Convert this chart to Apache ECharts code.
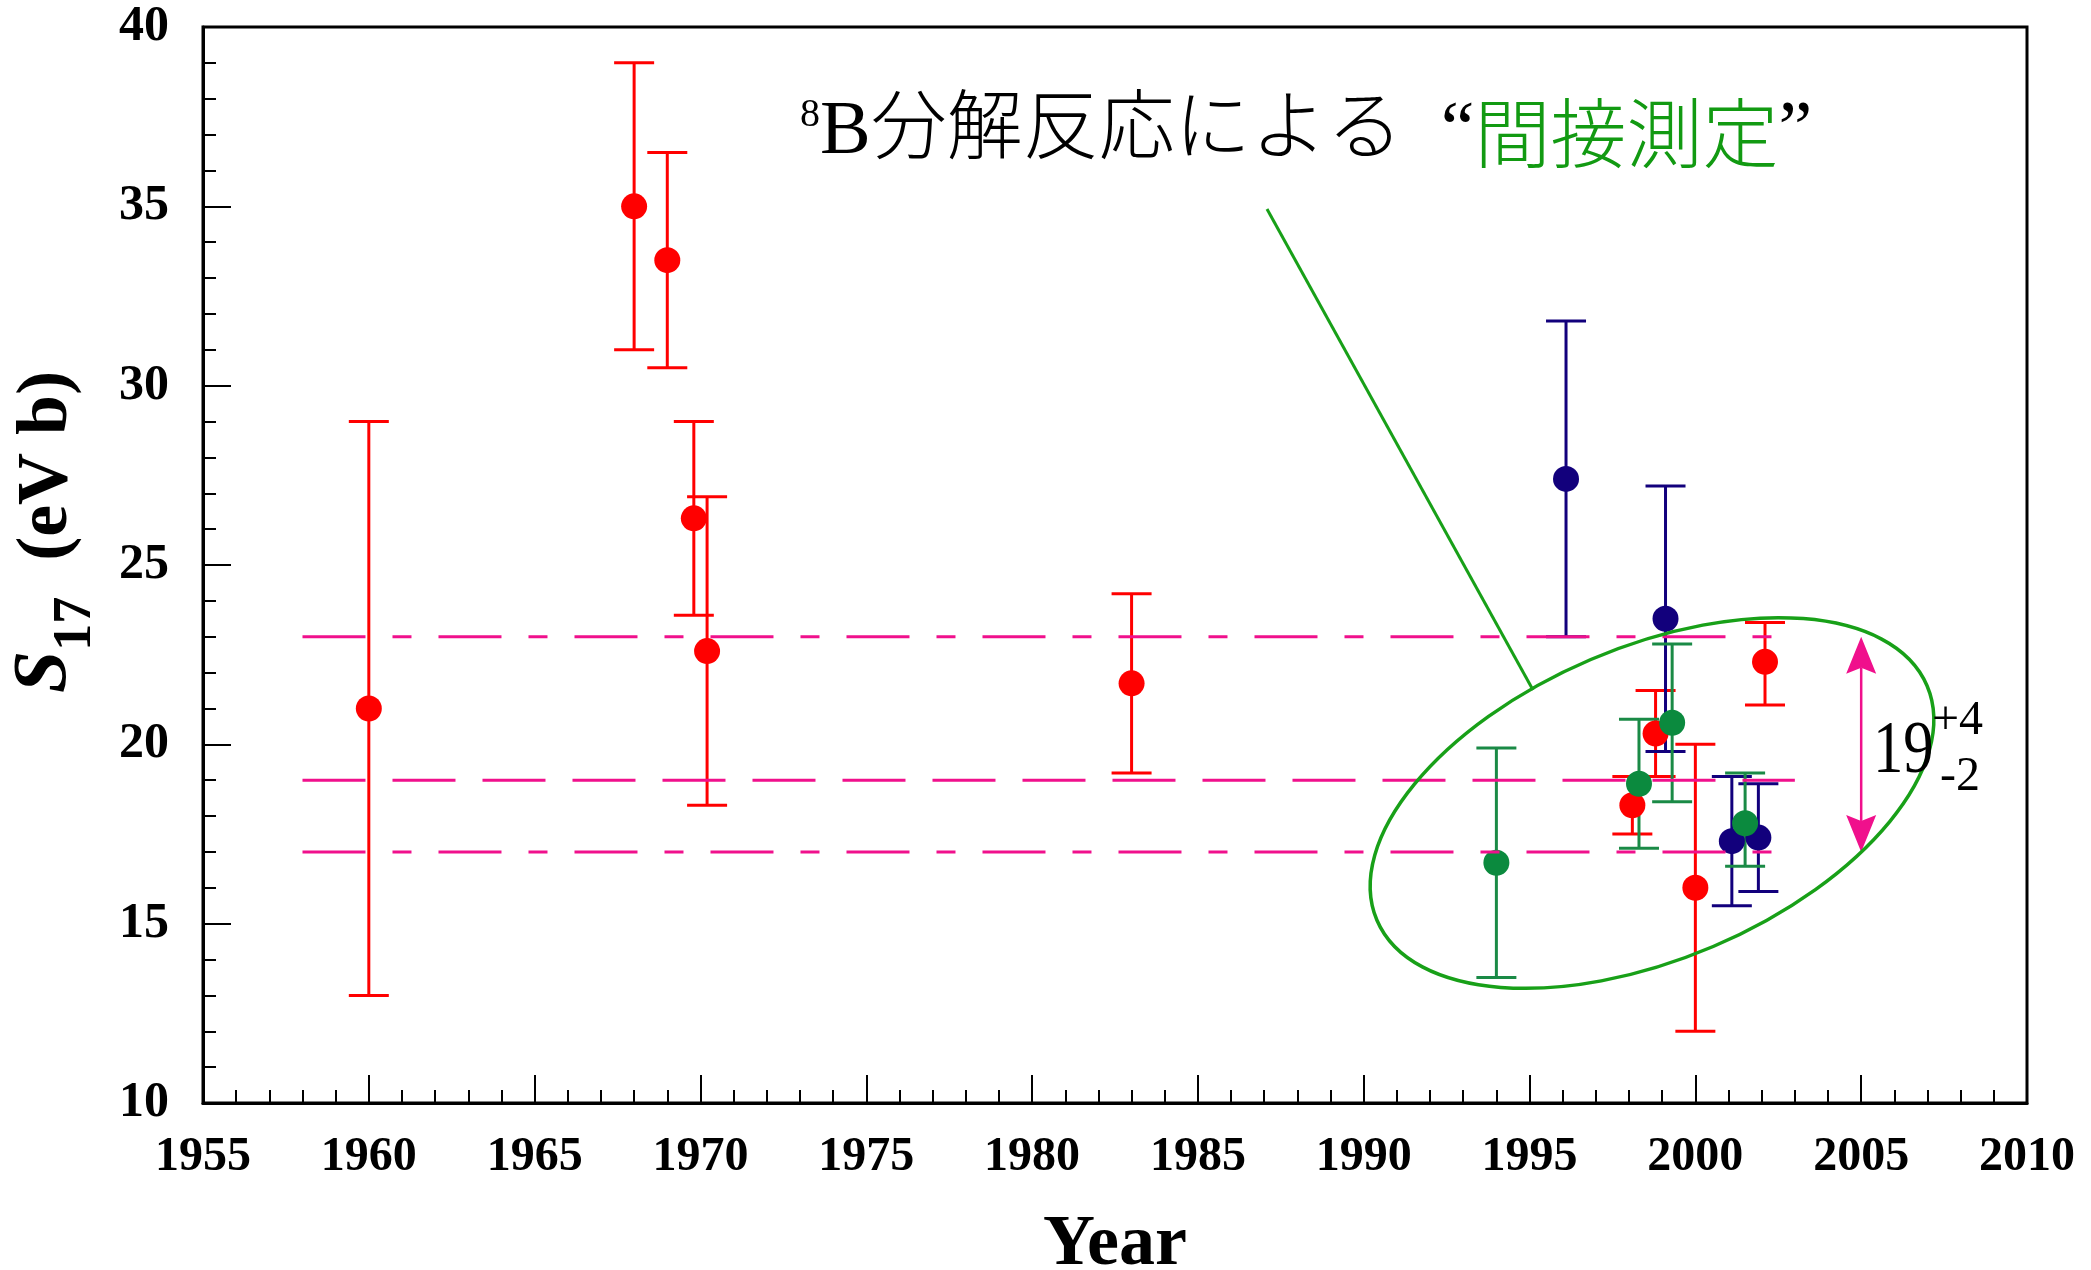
<!DOCTYPE html>
<html>
<head>
<meta charset="utf-8">
<title>S17 vs Year</title>
<script src="https://cdn.jsdelivr.net/npm/echarts@6/dist/echarts.min.js"></script>
<style>
  html, body { margin: 0; padding: 0; background: #fff; }
  #chart { width: 2091px; height: 1270px; }
</style>
</head>
<body>
<div id="chart"></div>
<script>
// ---- data: S17 (eV b) by year of publication, with error bars ----
// direct (p,γ) measurements
const redYear  = [1960.0, 1968.0, 1969.0, 1969.8, 1970.2, 1983.0, 1998.1, 1998.8, 2000.0, 2002.1];
const redS17   = [21.0, 35.0, 33.5, 26.3, 22.6, 21.7, 18.3, 20.3, 16.0, 22.3];
const redUpper = [29.0, 39.0, 36.5, 29.0, 26.9, 24.2, 19.1, 21.5, 20.0, 23.4];
const redLower = [13.0, 31.0, 30.5, 23.6, 18.3, 19.2, 17.5, 19.1, 12.0, 21.1];

// indirect determinations (navy)
const navyYear  = [1996.1, 1999.1, 2001.1, 2001.9];
const navyS17   = [27.4, 23.5, 17.3, 17.4];
const navyUpper = [31.8, 27.2, 19.1, 18.9];
const navyLower = [23.0, 19.8, 15.5, 15.9];

// 8B Coulomb dissociation (green)
const greenYear  = [1994.0, 1998.3, 1999.3, 2001.5];
const greenS17   = [16.7, 18.9, 20.6, 17.8];
const greenUpper = [19.9, 20.7, 22.8, 19.2];
const greenLower = [13.5, 17.1, 18.4, 16.6];

// adopted value 19 (+4 / -2)
const adoptedValue = 19;
const adoptedPlus = 4;
const adoptedMinus = 2;
const adoptedYear = 2005;
const refRange = [1958, 2003];

// axes
const xTicks = { min: 1955, max: 2010, step: 5 };
const yTicks = { min: 10, max: 40, step: 5 };

// ---- styling ----
const RED = '#ff0000';
const NAVY = '#12007c';
const GREEN_BAR = '#1a8a46';
const GREEN_DOT = '#0b8a3e';
const PINK = '#f0108c';
const ELLIPSE_GREEN = '#18a018';
const SERIF = "'Liberation Serif', 'Times New Roman', serif";
const JP = "'Liberation Serif', 'Noto Sans CJK JP', serif";

function errorBars(name, years, lower, upper, color) {
  return {
    name: name,
    type: 'custom',
    data: years.map((x, i) => [x, lower[i], upper[i]]),
    encode: { x: 0, y: [1, 2] },
    renderItem: function (params, api) {
      const x = api.value(0);
      const lo = api.coord([x, api.value(1)]);
      const hi = api.coord([x, api.value(2)]);
      const hw = 20;
      const st = { stroke: color, lineWidth: 3 };
      return {
        type: 'group',
        children: [
          { type: 'line', shape: { x1: lo[0], y1: lo[1], x2: hi[0], y2: hi[1] }, style: st },
          { type: 'line', shape: { x1: hi[0] - hw, y1: hi[1], x2: hi[0] + hw, y2: hi[1] }, style: st },
          { type: 'line', shape: { x1: lo[0] - hw, y1: lo[1], x2: lo[0] + hw, y2: lo[1] }, style: st }
        ]
      };
    },
    silent: true
  };
}

function dots(name, years, values, color) {
  return {
    name: name,
    type: 'scatter',
    data: years.map((x, i) => [x, values[i]]),
    symbol: 'circle',
    symbolSize: 26,
    itemStyle: { color: color, opacity: 1 },
    silent: true
  };
}

function refLine(level, dash) {
  return {
    type: 'line',
    data: [[refRange[0], level], [refRange[1], level]],
    symbol: 'none',
    lineStyle: { color: PINK, width: 3, type: dash },
    silent: true
  };
}

const refLevels = [adoptedValue + adoptedPlus, adoptedValue, adoptedValue - adoptedMinus];
const dashDot = [63, 27, 19, 27];
const dashLong = [63, 27];

const arrowSeries = {
  type: 'custom',
  data: [[adoptedYear, adoptedValue - adoptedMinus, adoptedValue + adoptedPlus]],
  encode: { x: 0, y: [1, 2] },
  renderItem: function (params, api) {
    const x = api.value(0);
    const top = api.coord([x, api.value(2)]);
    const bot = api.coord([x, api.value(1)]);
    const L = 37, W = 15, N = 6;
    return {
      type: 'group',
      children: [
        { type: 'line', shape: { x1: top[0], y1: top[1] + L - N, x2: bot[0], y2: bot[1] - L + N },
          style: { stroke: PINK, lineWidth: 2.5 } },
        { type: 'polygon', shape: { points: [[top[0], top[1]], [top[0] + W, top[1] + L], [top[0], top[1] + L - N], [top[0] - W, top[1] + L]] },
          style: { fill: PINK } },
        { type: 'polygon', shape: { points: [[bot[0], bot[1]], [bot[0] + W, bot[1] - L], [bot[0], bot[1] - L + N], [bot[0] - W, bot[1] - L]] },
          style: { fill: PINK } }
      ]
    };
  },
  silent: true
};

const chart = echarts.init(document.getElementById('chart'), null, { renderer: 'canvas' });

function axisCommon(range) {
  return {
    type: 'value',
    min: range.min,
    max: range.max,
    interval: range.step,
    axisLine: { show: true, onZero: false, lineStyle: { color: '#000', width: 3 } },
    axisTick: { show: true, inside: true, length: 28, lineStyle: { color: '#000', width: 2 } },
    minorTick: { show: true, splitNumber: 5, length: 13, lineStyle: { color: '#000', width: 2 } },
    splitLine: { show: false },
    minorSplitLine: { show: false }
  };
}

const plainNumber = v => String(v);

const option = {
  animation: false,
  backgroundColor: '#fff',
  grid: {
    left: 203, top: 27, right: 64, bottom: 167,
    containLabel: false,
    outerBoundsMode: 'none',
    show: true, borderColor: '#000', borderWidth: 3, backgroundColor: 'transparent'
  },
  xAxis: Object.assign(axisCommon(xTicks), {
    name: 'Year',
    nameLocation: 'middle',
    nameGap: 106,
    nameTextStyle: { fontFamily: SERIF, fontWeight: 'bold', fontSize: 72, color: '#000' },
    axisLabel: { fontFamily: SERIF, fontWeight: 'bold', fontSize: 48, color: '#000', margin: 31, formatter: plainNumber }
  }),
  yAxis: Object.assign(axisCommon(yTicks), {
    axisLabel: { fontFamily: SERIF, fontWeight: 'bold', fontSize: 50, color: '#000', margin: 34, formatter: plainNumber }
  }),
  series: [
    refLine(refLevels[0], dashDot),
    refLine(refLevels[1], dashLong),
    refLine(refLevels[2], dashDot),
    errorBars('direct', redYear, redLower, redUpper, RED),
    dots('direct', redYear, redS17, RED),
    errorBars('indirect', navyYear, navyLower, navyUpper, NAVY),
    dots('indirect', navyYear, navyS17, NAVY),
    errorBars('coulomb', greenYear, greenLower, greenUpper, GREEN_BAR),
    dots('coulomb', greenYear, greenS17, GREEN_DOT),
    arrowSeries
  ],
  graphic: [
    // y-axis title: S_17 (eV b)
    {
      type: 'text', x: 55, y: 532, rotation: Math.PI / 2, z: 100,
      style: {
        text: '{s|S}{sub|17}{p|  (eV b)}',
        align: 'center', verticalAlign: 'middle',
        rich: {
          s: { fontFamily: SERIF, fontSize: 76, fontWeight: 'bold', fontStyle: 'italic', fill: '#000', verticalAlign: 'bottom', padding: [0, 0, 20, 0] },
          sub: { fontFamily: SERIF, fontSize: 54, fontWeight: 'bold', fill: '#000', verticalAlign: 'bottom' },
          p: { fontFamily: SERIF, fontSize: 72, fontWeight: 'bold', fill: '#000', verticalAlign: 'bottom', padding: [0, 0, 20, 0] }
        }
      }
    },
    // annotation title
    {
      type: 'text', x: 800, y: 95, z: 100,
      style: {
        text: '{sup|8}{m|B分解反応による  “}{g|間接測定}{m|”}',
        align: 'left', verticalAlign: 'top',
        rich: {
          sup: { fontFamily: SERIF, fontSize: 40, fill: '#000', verticalAlign: 'top' },
          m: { fontFamily: JP, fontSize: 76, fontWeight: 300, fill: '#000', verticalAlign: 'middle' },
          g: { fontFamily: "'Noto Sans CJK JP', sans-serif", fontSize: 76, fontWeight: 300, fill: '#129a12', verticalAlign: 'middle' }
        }
      }
    },
    // leader line to the ellipse
    {
      type: 'line', z: 100,
      shape: { x1: 1267, y1: 209, x2: 1533, y2: 690 },
      style: { stroke: ELLIPSE_GREEN, lineWidth: 3 }
    },
    // ellipse around the indirect-measurement cluster
    {
      type: 'ellipse', z: 100,
      x: 1652, y: 803, rotation: 0.403,
      shape: { cx: 0, cy: 0, rx: 299, ry: 156 },
      style: { stroke: ELLIPSE_GREEN, lineWidth: 3.5, fill: null }
    },
    // 19 (+4 / -2) label
    {
      type: 'text', x: 1873, y: 753, scaleX: 0.82, z: 100,
      style: { text: String(adoptedValue), fontFamily: SERIF, fontSize: 74, fill: '#000', align: 'left', verticalAlign: 'middle' }
    },
    {
      type: 'text', x: 1932, y: 721, z: 100,
      style: { text: '+' + adoptedPlus, fontFamily: SERIF, fontSize: 48, fill: '#000', align: 'left', verticalAlign: 'middle' }
    },
    {
      type: 'text', x: 1940, y: 777, z: 100,
      style: { text: '-' + adoptedMinus, fontFamily: SERIF, fontSize: 48, fill: '#000', align: 'left', verticalAlign: 'middle' }
    }
  ]
};

chart.setOption(option);
</script>
</body>
</html>
